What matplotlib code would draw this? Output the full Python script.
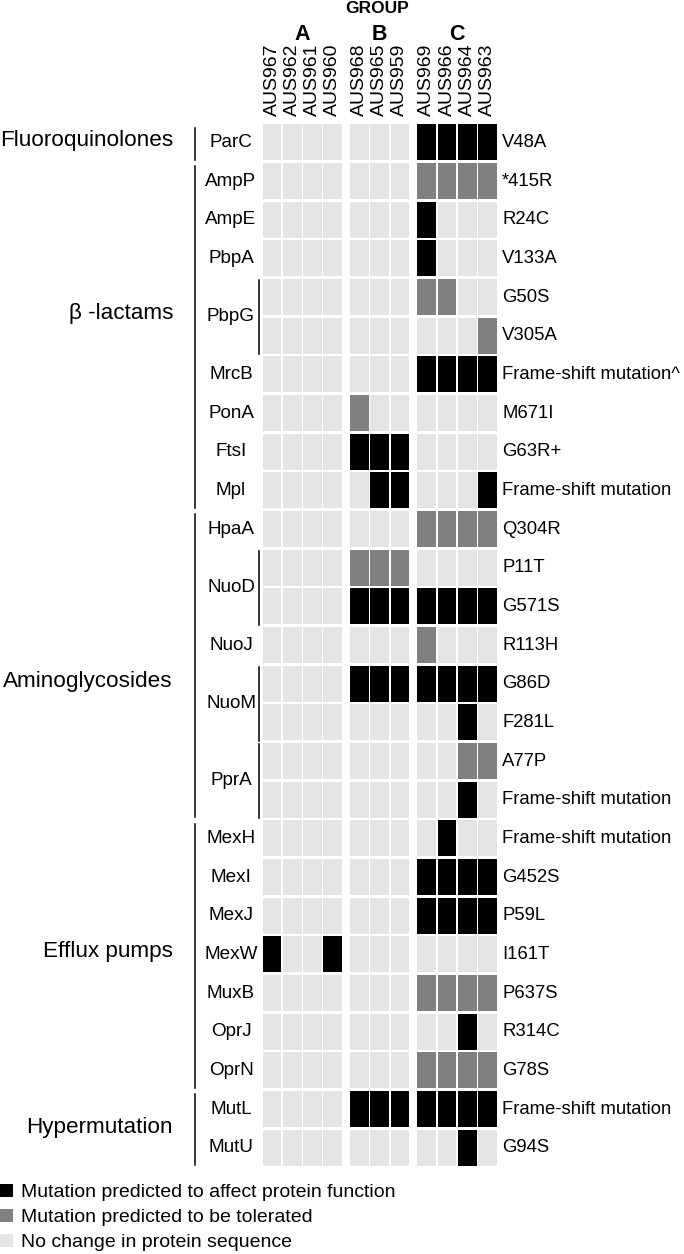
import matplotlib
matplotlib.use('Agg')
import matplotlib.pyplot as plt
from matplotlib.patches import Rectangle
from matplotlib.transforms import blended_transform_factory

plt.rcParams['font.family'] = ['Liberation Sans', 'DejaVu Sans']

# isolates per group
groups = ['A', 'B', 'C']
isolates = [['AUS967', 'AUS962', 'AUS961', 'AUS960'],
            ['AUS968', 'AUS965', 'AUS959'],
            ['AUS969', 'AUS966', 'AUS964', 'AUS963']]

# drug classes and how many rows each covers
categories = ['Fluoroquinolones', 'β -lactams', 'Aminoglycosides', 'Efflux pumps', 'Hypermutation']
category_rows = [1, 9, 8, 7, 2]

genes = ['ParC', 'AmpP', 'AmpE', 'PbpA', 'PbpG', 'PbpG', 'MrcB', 'PonA', 'FtsI', 'Mpl',
         'HpaA', 'NuoD', 'NuoD', 'NuoJ', 'NuoM', 'NuoM', 'PprA', 'PprA',
         'MexH', 'MexI', 'MexJ', 'MexW', 'MuxB', 'OprJ', 'OprN', 'MutL', 'MutU']
mutations = ['V48A', '*415R', 'R24C', 'V133A', 'G50S', 'V305A', 'Frame-shift mutation^',
             'M671I', 'G63R+', 'Frame-shift mutation', 'Q304R', 'P11T', 'G571S', 'R113H',
             'G86D', 'F281L', 'A77P', 'Frame-shift mutation', 'Frame-shift mutation',
             'G452S', 'P59L', 'I161T', 'P637S', 'R314C', 'G78S', 'Frame-shift mutation', 'G94S']

# 0 = no change, 1 = tolerated, 2 = affects function
status = [
    [0, 0, 0, 0, 0, 0, 0, 2, 2, 2, 2],
    [0, 0, 0, 0, 0, 0, 0, 1, 1, 1, 1],
    [0, 0, 0, 0, 0, 0, 0, 2, 0, 0, 0],
    [0, 0, 0, 0, 0, 0, 0, 2, 0, 0, 0],
    [0, 0, 0, 0, 0, 0, 0, 1, 1, 0, 0],
    [0, 0, 0, 0, 0, 0, 0, 0, 0, 0, 1],
    [0, 0, 0, 0, 0, 0, 0, 2, 2, 2, 2],
    [0, 0, 0, 0, 1, 0, 0, 0, 0, 0, 0],
    [0, 0, 0, 0, 2, 2, 2, 0, 0, 0, 0],
    [0, 0, 0, 0, 0, 2, 2, 0, 0, 0, 2],
    [0, 0, 0, 0, 0, 0, 0, 1, 1, 1, 1],
    [0, 0, 0, 0, 1, 1, 1, 0, 0, 0, 0],
    [0, 0, 0, 0, 2, 2, 2, 2, 2, 2, 2],
    [0, 0, 0, 0, 0, 0, 0, 1, 0, 0, 0],
    [0, 0, 0, 0, 2, 2, 2, 2, 2, 2, 2],
    [0, 0, 0, 0, 0, 0, 0, 0, 0, 2, 0],
    [0, 0, 0, 0, 0, 0, 0, 0, 0, 1, 1],
    [0, 0, 0, 0, 0, 0, 0, 0, 0, 2, 0],
    [0, 0, 0, 0, 0, 0, 0, 0, 2, 0, 0],
    [0, 0, 0, 0, 0, 0, 0, 2, 2, 2, 2],
    [0, 0, 0, 0, 0, 0, 0, 2, 2, 2, 2],
    [2, 0, 0, 2, 0, 0, 0, 0, 0, 0, 0],
    [0, 0, 0, 0, 0, 0, 0, 1, 1, 1, 1],
    [0, 0, 0, 0, 0, 0, 0, 0, 0, 2, 0],
    [0, 0, 0, 0, 0, 0, 0, 1, 1, 1, 1],
    [0, 0, 0, 0, 2, 2, 2, 2, 2, 2, 2],
    [0, 0, 0, 0, 0, 0, 0, 0, 0, 2, 0],
]

legend_labels = ['Mutation predicted to affect protein function',
                 'Mutation predicted to be tolerated',
                 'No change in protein sequence']
colors = ['#e4e4e4', '#808080', '#000000']

# where the class label sits (in row units), not always centred on its span
category_label_y = [0.45, 4.92, 14.45, 21.42, 25.97]

W, H = 684, 1254
fig = plt.figure(figsize=(W / 100, H / 100), dpi=100)
ax = fig.add_axes([262 / W, 1 - 1167 / H, 235.5 / W, 1044 / H])

gap = 0.33
xpos = []
k = 0
for g, names in enumerate(isolates):
    for name in names:
        xpos.append(k + g * gap)
        k += 1

nrows = len(genes)
for r in range(nrows):
    for c, x in enumerate(xpos):
        ax.add_patch(Rectangle((x - 0.465, r + 0.033), 0.93, 0.934,
                               facecolor=colors[status[r][c]], edgecolor='none'))

ax.set_xlim(xpos[0] - 0.5, xpos[-1] + 0.5)
ax.set_ylim(nrows, 0)
ax.axis('off')

left_tr = blended_transform_factory(fig.transFigure, ax.transData)
top_tr = blended_transform_factory(ax.transData, fig.transFigure)

# isolate names
k = 0
for names in isolates:
    for name in names:
        ax.text(xpos[k], 1 - 116 / H, name, transform=top_tr, rotation=90,
                ha='center', va='bottom', fontsize=14)
        k += 1

# group letters
k = 0
for g, names in enumerate(isolates):
    cx = (xpos[k] + xpos[k + len(names) - 1]) / 2
    ax.text(cx, 1 - 40 / H, groups[g], transform=top_tr, ha='center',
            va='baseline', fontsize=15.5, fontweight='bold')
    k += len(names)
ax.text(0.49, 1 - 13 / H, 'GROUP', transform=blended_transform_factory(ax.transAxes, fig.transFigure),
        ha='center', va='baseline', fontsize=12.5, fontweight='bold')

# mutation labels on the right
for r, m in enumerate(mutations):
    ax.text(502 / W, r + 0.5, m, transform=left_tr, ha='left', va='center', fontsize=13.3)

# gene labels and brackets for genes with several rows
r = 0
while r < nrows:
    n = 1
    while r + n < nrows and genes[r + n] == genes[r]:
        n += 1
    ax.text(231 / W, r + n / 2, genes[r], transform=left_tr, ha='center', va='center', fontsize=13.6)
    if n > 1:
        ax.plot([258.5 / W, 258.5 / W], [r + 0.06, r + n - 0.03], transform=left_tr,
                color='black', lw=1.1, clip_on=False)
    r += n

# drug class labels and brackets
start = 0
for name, n, ly in zip(categories, category_rows, category_label_y):
    ax.plot([195 / W, 195 / W], [start + 0.12, start + n - 0.05], transform=left_tr,
            color='black', lw=1.1, clip_on=False)
    ax.text(173 / W, ly, name, transform=left_tr, ha='right', va='center', fontsize=16.2)
    start += n

# legend
for i, (lab, col) in enumerate(zip(legend_labels, colors[::-1])):
    y0 = 1184 + i * 25
    fig.patches.append(Rectangle((0, 1 - (y0 + 12.5) / H), 12.5 / W, 12.5 / H,
                                 transform=fig.transFigure, facecolor=col, edgecolor='none'))
    fig.text(21 / W, 1 - (y0 + 13) / H, lab, ha='left', va='baseline', fontsize=14)

fig.savefig('out.png', dpi=100)
